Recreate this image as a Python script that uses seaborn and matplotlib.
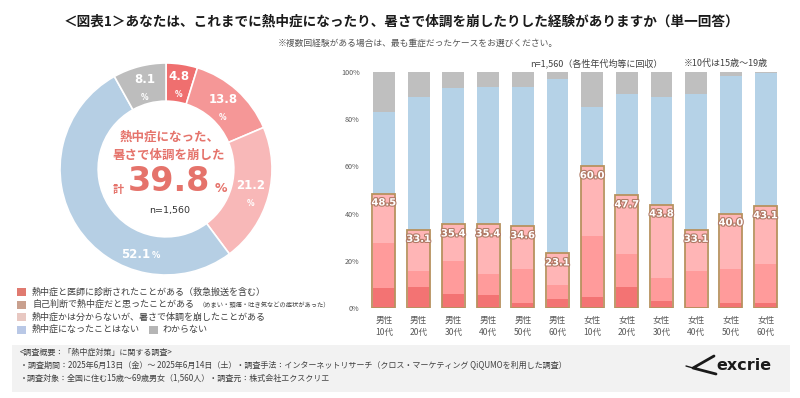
import numpy as np
import pandas as pd
import matplotlib
matplotlib.use("Agg")
import matplotlib.pyplot as plt
import matplotlib.patheffects as pe
from matplotlib.patches import Rectangle
from matplotlib.lines import Line2D
import seaborn as sns

sns.set_theme(style="white")
plt.rcParams['font.family'] = ['Noto Sans CJK JP', 'DejaVu Sans']

# ---------------- data ----------------
donut_labels = ["熱中症と医師に診断されたことがある", "自己判断で熱中症だと思ったことがある",
                "熱中症かは分からないが、暑さで体調を崩したことがある", "熱中症になったことはない", "わからない"]
donut_values = [4.8, 13.8, 21.2, 52.1, 8.1]
donut_total = 39.8

categories = ["男性\n10代", "男性\n20代", "男性\n30代", "男性\n40代", "男性\n50代", "男性\n60代",
              "女性\n10代", "女性\n20代", "女性\n30代", "女性\n40代", "女性\n50代", "女性\n60代"]
diagnosed   = [8.6, 9.0, 6.0, 5.3, 2.2, 3.8, 4.8, 9.1, 3.0, 0.6, 2.2, 2.2]
self_judged = [18.8, 6.8, 13.9, 9.0, 14.3, 5.9, 25.8, 13.8, 9.9, 15.2, 14.5, 16.4]
unsure      = [21.1, 17.3, 15.5, 21.1, 18.1, 13.4, 29.4, 24.8, 30.9, 17.3, 23.3, 24.5]
never       = [34.7, 56.2, 57.7, 58.4, 59.0, 73.8, 25.0, 43.0, 45.5, 57.6, 58.3, 56.3]
dont_know   = [16.8, 10.7, 6.9, 6.2, 6.4, 3.1, 15.0, 9.3, 10.7, 9.3, 1.7, 0.6]
total_labels = [48.5, 33.1, 35.4, 35.4, 34.6, 23.1, 60.0, 47.7, 43.8, 33.1, 40.0, 43.1]
ytick_values = [0, 20, 40, 60, 80, 100]

# ---------------- styles ----------------
C_DIAG, C_SELF, C_UNS, C_NEV, C_DK = "#F37373", "#FF9B9B", "#FFB5B6", "#B5D2E7", "#BFBFBF"
DONUT_COLORS = ["#EF6F6F", "#F59797", "#F8B8B8", "#B6CFE4", "#BDBDBD"]
LEG_COLORS = ["#E07A70", "#C9A08E", "#E8C8C2", "#B9C8E6", "#B5B5B5"]
ACCENT = "#E5736B"
TXT = "#404040"

W, H = 800, 398
fig = plt.figure(figsize=(8, 3.98), dpi=100)
fig.patch.set_facecolor("white")

def fx(px):
    return px / W

def fy(py):
    return 1 - py / H

# ---------------- titles ----------------
fig.text(fx(401), fy(22), "＜図表1＞あなたは、これまでに熱中症になったり、暑さで体調を崩したりした経験がありますか（単一回答）",
         ha="center", va="center", fontsize=9.8, fontweight="bold", color="#1a1a1a")
fig.text(fx(418), fy(43), "※複数回経験がある場合は、最も重症だったケースをお選びください。",
         ha="center", va="center", fontsize=6.3, color="#555555")

# ---------------- donut ----------------
cx, cy, R = 166, 169, 106
span = 1.2
ring = 0.36
axd = fig.add_axes([fx(cx - span * R), fy(cy + span * R), 2 * span * R / W, 2 * span * R / H])
wedges, _ = axd.pie(donut_values, colors=DONUT_COLORS, startangle=90, counterclock=False,
                    wedgeprops=dict(width=ring, edgecolor="white", linewidth=1.2))
axd.set_xlim(-span, span)
axd.set_ylim(-span, span)
axd.set_aspect("equal")
axd.axis("off")

label_offsets = [0, 0, 0, 40, 0]
label_r = [0.82, 0.8, 0.83, 0.84, 0.81]
cum = 0
for i, v in enumerate(donut_values):
    mid = 90 - (cum + v / 2) * 3.6 + label_offsets[i]
    cum += v
    a = np.deg2rad(mid)
    x, y = label_r[i] * np.cos(a), label_r[i] * np.sin(a)
    if i == 3:
        axd.text(x - 0.04, y, f"{v:.1f}", ha="center", va="center", color="white",
                 fontsize=8.5, fontweight="bold", family="DejaVu Sans")
        axd.text(x + 0.155, y - 0.015, "%", ha="center", va="center", color="white",
                 fontsize=6, fontweight="bold", family="DejaVu Sans")
    else:
        axd.text(x, y + 0.06, f"{v:.1f}", ha="center", va="center", color="white",
                 fontsize=8.5, fontweight="bold", family="DejaVu Sans")
        axd.text(x, y - 0.11, "%", ha="center", va="center", color="white",
                 fontsize=5.5, fontweight="bold", family="DejaVu Sans")

axd.text(0.03, 0.30, "熱中症になった、", ha="center", va="center", fontsize=9, fontweight="bold", color=ACCENT)
axd.text(0.03, 0.13, "暑さで体調を崩した", ha="center", va="center", fontsize=9, fontweight="bold", color=ACCENT)
axd.text(0.03, -0.12, f"{donut_total:.1f}", ha="center", va="center", fontsize=24, fontweight="bold",
         color=ACCENT, family="DejaVu Sans")
axd.text(-0.45, -0.19, "計", ha="center", va="center", fontsize=8, fontweight="bold", color=ACCENT)
axd.text(0.52, -0.18, "%", ha="center", va="center", fontsize=9, fontweight="bold", color=ACCENT,
         family="DejaVu Sans")
axd.text(0.03, -0.39, "n=1,560", ha="center", va="center", fontsize=6.8, color="#333333",
         family="DejaVu Sans")

# ---------------- legend ----------------
leg_rows = [292, 304.5, 317, 329.5]
for j, yy in enumerate(leg_rows):
    fig.add_artist(Rectangle((fx(17), fy(yy + 4)), 9 / W, 8 / H, transform=fig.transFigure,
                             facecolor=LEG_COLORS[j], edgecolor="none"))
fig.text(fx(32), fy(leg_rows[0]), "熱中症と医師に診断されたことがある（救急搬送を含む）", fontsize=6.5, va="center", color=TXT)
fig.text(fx(32), fy(leg_rows[1]), "自己判断で熱中症だと思ったことがある", fontsize=6.5, va="center", color=TXT)
fig.text(fx(199), fy(leg_rows[1] + 0.5), "（めまい・頭痛・吐き気などの症状があった）", fontsize=4.5, va="center", color=TXT)
fig.text(fx(32), fy(leg_rows[2]), "熱中症かは分からないが、暑さで体調を崩したことがある", fontsize=6.5, va="center", color=TXT)
fig.text(fx(32), fy(leg_rows[3]), "熱中症になったことはない", fontsize=6.5, va="center", color=TXT)
fig.add_artist(Rectangle((fx(149), fy(leg_rows[3] + 4)), 9 / W, 8 / H, transform=fig.transFigure,
                         facecolor=LEG_COLORS[4], edgecolor="none"))
fig.text(fx(163), fy(leg_rows[3]), "わからない", fontsize=6.5, va="center", color=TXT)

# ---------------- stacked bars ----------------
df = pd.DataFrame({"group": categories, "diag": diagnosed, "self": self_judged,
                   "unsure": unsure, "never": never, "dk": dont_know})
df["c1"] = df["diag"]
df["c2"] = df["c1"] + df["self"]
df["c3"] = df["c2"] + df["unsure"]
df["c4"] = df["c3"] + df["never"]
df["c5"] = df["c4"] + df["dk"]

axb = fig.add_axes([fx(366.6), fy(308), (783 - 366.6) / W, 236 / H])
for col, colr in [("c5", C_DK), ("c4", C_NEV), ("c3", C_UNS), ("c2", C_SELF), ("c1", C_DIAG)]:
    sns.barplot(data=df, x="group", y=col, order=categories, color=colr, saturation=1,
                width=0.63, linewidth=0, errorbar=None, ax=axb)
sns.barplot(data=df, x="group", y="c3", order=categories, color="#B8925F", fill=False,
            width=0.66, linewidth=1.3, errorbar=None, ax=axb)

for i, v in enumerate(total_labels):
    axb.text(i, df["c3"][i] - 3.8, f"{v:.1f}", ha="center", va="center", color="white",
             fontsize=7.2, fontweight="bold", family="DejaVu Sans",
             path_effects=[pe.withStroke(linewidth=1.6, foreground="#B07A66")])

axb.set_ylim(0, 100)
axb.set_xlim(-0.5, len(categories) - 0.5)
axb.set_yticks(ytick_values)
axb.set_yticklabels([f"{t}%" for t in ytick_values])
axb.set_xlabel("")
axb.set_ylabel("")
axb.tick_params(axis="y", length=0, pad=5, labelsize=5.2, labelcolor="#595959")
axb.tick_params(axis="x", length=0, pad=6, labelsize=6.2, labelcolor="#595959")
for lab in axb.get_xticklabels():
    lab.set_linespacing(1.35)
sns.despine(ax=axb, left=True, bottom=True)
axb.grid(False)
axb.set_facecolor("none")

fig.text(fx(530), fy(63), "n=1,560（各性年代均等に回収）", fontsize=6.5, va="center", ha="left", color=TXT)
fig.text(fx(684), fy(63), "※10代は15歳～19歳", fontsize=6.5, va="center", ha="left", color=TXT)

# ---------------- footer box ----------------
fig.add_artist(Rectangle((fx(12), fy(392)), (790 - 12) / W, (392 - 345) / H, transform=fig.transFigure,
                         facecolor="#F2F2F2", edgecolor="none", zorder=0))
fig.text(fx(20), fy(352.5), "<調査概要：「熱中症対策」に関する調査>", fontsize=5.8, va="center", color=TXT)
fig.text(fx(20), fy(365), "・調査期間：2025年6月13日（金）～ 2025年6月14日（土）・調査手法：インターネットリサーチ（クロス・マーケティング QiQUMOを利用した調査）",
         fontsize=5.8, va="center", color=TXT)
fig.text(fx(20), fy(377.5), "・調査対象：全国に住む15歳～69歳男女（1,560人）・調査元：株式会社エクスクリエ",
         fontsize=5.8, va="center", color=TXT)

# logo
fig.text(fx(744), fy(366), "excrie", fontsize=11.5, fontweight="bold", ha="center", va="center",
         color="#1a1a1a", family="DejaVu Sans")
fig.add_artist(Line2D([fx(714), fx(693), fx(716)], [fy(356), fy(368), fy(374)], transform=fig.transFigure,
                      color="#1a1a1a", linewidth=2.0, solid_capstyle="round"))
fig.add_artist(Line2D([fx(686), fx(693)], [fy(366), fy(368)], transform=fig.transFigure,
                      color="#1a1a1a", linewidth=1.0))

fig.savefig("out.png", dpi=100, facecolor="white")
